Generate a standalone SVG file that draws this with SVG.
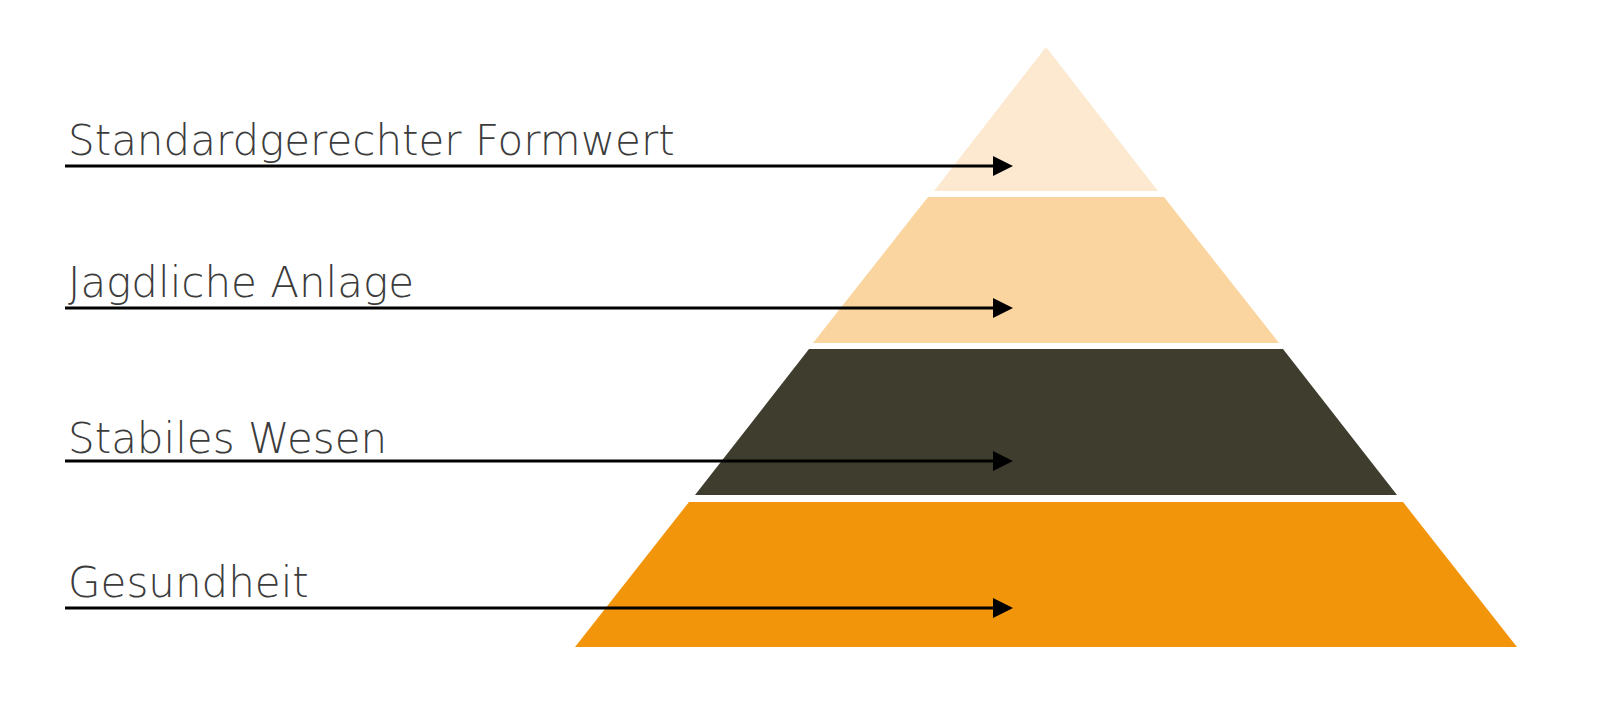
<svg xmlns="http://www.w3.org/2000/svg" width="1600" height="725" viewBox="0 0 1600 725">
  <style>
    .lbl { font-family: "DejaVu Sans", "Liberation Sans", sans-serif; font-weight: 200; font-size: 42px; fill: #3c3c3c; }
    .conn { stroke: #000; stroke-width: 3.2; fill: none; marker-end: url(#ah); }
  </style>
  <defs>
    <marker id="ah" markerUnits="userSpaceOnUse" markerWidth="20" markerHeight="20" viewBox="0 0 18 18" refX="0" refY="9" orient="auto">
      <path d="M0,0 L18,9 L0,18 Z" fill="#000"/>
    </marker>
  </defs>
  <rect width="1600" height="725" fill="#ffffff"/>
  <g id="layer1">
    <polygon points="1046,47 1158,191 934,191" fill="#FCE9D0"/>
  </g>
  <g id="layer2">
    <polygon points="928,197 1164,197 1279,343 813,343" fill="#FAD5A0"/>
  </g>
  <g id="layer3">
    <polygon points="809,349 1283,349 1397,495 695,495" fill="#3F3D2E"/>
  </g>
  <g id="layer4">
    <polygon points="689,502 1403,502 1517,647 575,647" fill="#F3950B"/>
  </g>
  <g id="labels">
    <text id="t1" class="lbl" x="68" y="155">Standardgerechter Formwert</text>
    <text id="t2" class="lbl" x="68" y="297">Jagdliche Anlage</text>
    <text id="t3" class="lbl" x="68" y="453">Stabiles Wesen</text>
    <text id="t4" class="lbl" x="68" y="597">Gesundheit</text>
  </g>
  <g id="connectors">
    <line class="conn" x1="65" y1="166" x2="993" y2="166"/>
    <line class="conn" x1="65" y1="308" x2="993" y2="308"/>
    <line class="conn" x1="65" y1="461" x2="993" y2="461"/>
    <line class="conn" x1="65" y1="608" x2="993" y2="608"/>
  </g>
</svg>
